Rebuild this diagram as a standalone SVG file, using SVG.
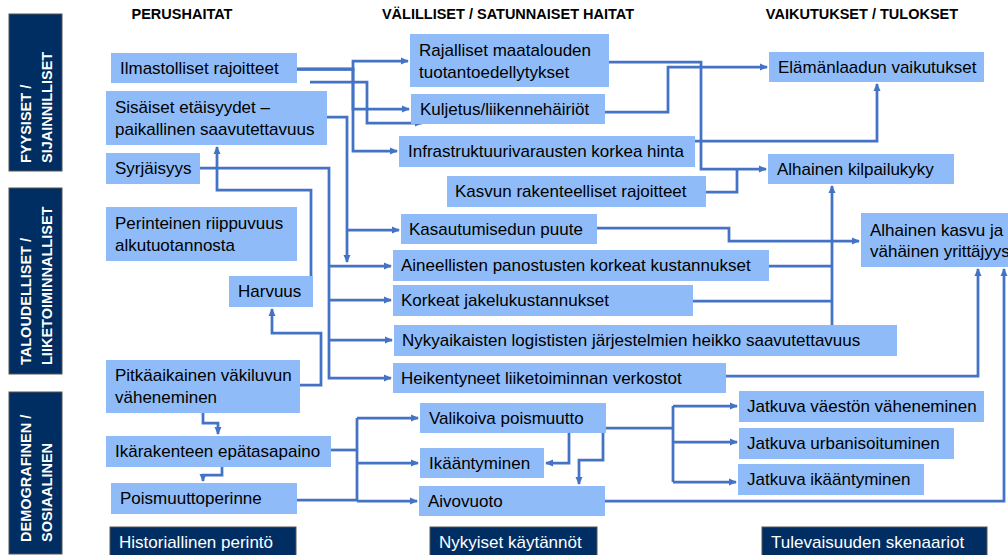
<svg xmlns="http://www.w3.org/2000/svg" width="1008" height="555" viewBox="0 0 1008 555">
<defs>
<marker id="arr" markerUnits="userSpaceOnUse" markerWidth="8" markerHeight="8" viewBox="0 0 8 8" refX="7" refY="4" orient="auto">
<path d="M0,0.5 L8,4 L0,7.5 z" fill="#4472c4"/>
</marker>
<style>
.n{fill:#8fbcf8}
.t{font-family:"Liberation Sans",Arial,sans-serif;font-size:17px;fill:#000}
.h{font-family:"Liberation Sans",Arial,sans-serif;font-size:14.5px;font-weight:bold;fill:#000;text-anchor:middle}
.s{fill:#002e62;stroke:#555;stroke-width:1}
.st{font-family:"Liberation Sans",Arial,sans-serif;font-size:14.5px;font-weight:bold;fill:#fff}
.bt{font-family:"Liberation Sans",Arial,sans-serif;font-size:17px;fill:#fff}
.c path{fill:none;stroke:#4472c4;stroke-width:2.75}
.a{marker-end:url(#arr)}
</style>
</defs>
<rect width="1008" height="555" fill="#fff"/>

<g id="headers">
<text class="h" x="182" y="19">PERUSHAITAT</text>
<text class="h" x="508" y="19">VÄLILLISET / SATUNNAISET HAITAT</text>
<text class="h" x="862" y="19">VAIKUTUKSET / TULOKSET</text>
</g>

<g id="side1">
<rect class="s" x="9" y="14" width="53" height="157"/>
<text class="st" transform="translate(31,163) rotate(-90)">FYYSISET /</text>
<text class="st" transform="translate(52,163) rotate(-90)">SIJAINNILLISET</text>
</g>
<g id="side2">
<rect class="s" x="9" y="188" width="53" height="186"/>
<text class="st" transform="translate(31,365) rotate(-90)">TALOUDELLISET /</text>
<text class="st" transform="translate(52,365) rotate(-90)">LIIKETOIMINNALLISET</text>
</g>
<g id="side3">
<rect class="s" x="9" y="392" width="53" height="162"/>
<text class="st" transform="translate(31,542) rotate(-90)">DEMOGRAFINEN /</text>
<text class="st" transform="translate(52,542) rotate(-90)">SOSIAALINEN</text>
</g>

<g id="bottom1"><rect class="s" x="110" y="527" width="186" height="30"/><text class="bt" x="119" y="548">Historiallinen perintö</text></g>
<g id="bottom2"><rect class="s" x="430" y="527" width="167" height="30"/><text class="bt" x="439" y="548">Nykyiset käytännöt</text></g>
<g id="bottom3"><rect class="s" x="762" y="527" width="225" height="30"/><text class="bt" x="771" y="548">Tulevaisuuden skenaariot</text></g>

<g class="c" id="connectors">
<path class="a" d="M297,69 H353 V61 H408"/>
<path class="a" d="M297,69 H353 V109 H409"/>
<path class="a" d="M297,69 H353 V151 H397"/>
<path class="a" d="M310,82 H367 V123 H422"/>
<path class="a" d="M327,117 H347 V262"/>
<path class="a" d="M347,230 H399"/>
<path class="a" d="M200,168 H329 V378 H391"/>
<path class="a" d="M329,266 H391"/>
<path class="a" d="M329,300 H391"/>
<path class="a" d="M329,340 H392"/>
<path class="a" d="M311,276 V190 H217 V147"/>
<path class="a" d="M300,385 H321 V333 H272 V309"/>
<path class="a" d="M203,413 V423 H218 V434"/>
<path class="a" d="M222,467 V475 H203 V481"/>
<path d="M331,450 H357"/>
<path d="M297,500 H357"/>
<path d="M357,418 V501"/>
<path class="a" d="M357,418 H418"/>
<path class="a" d="M357,463 H418"/>
<path class="a" d="M357,501 H417"/>
<path class="a" d="M569,433 V463 H546"/>
<path class="a" d="M603,433 V460 H579 V484"/>
<path d="M606,428 H673"/>
<path d="M673,406 V482"/>
<path class="a" d="M673,406 H737"/>
<path class="a" d="M673,442 H737"/>
<path class="a" d="M673,482 H736"/>
<path class="a" d="M605,501 H1004 V269"/>
<path class="a" d="M726,376 H978 V269"/>
<path class="a" d="M609,62 H701 V169 H766"/>
<path class="a" d="M605,112 H668 V67 H767"/>
<path class="a" d="M695,141 H877 V84"/>
<path d="M706,192 H737 V169"/>
<path class="a" d="M832,330 V186"/>
<path d="M769,266 H832"/>
<path d="M693,301 H832"/>
<path class="a" d="M597,228 H729 V241 H859"/>
</g>

<g id="n_ilmasto"><rect class="n" x="111" y="53" width="186" height="30"/><text class="t" x="120" y="74">Ilmastolliset rajoitteet</text></g>
<g id="n_sisaiset"><rect class="n" x="106" y="91" width="221" height="54"/><text class="t" x="115" y="113">Sisäiset etäisyydet –</text><text class="t" x="115" y="135">paikallinen saavutettavuus</text></g>
<g id="n_syrjaisyys"><rect class="n" x="106" y="153" width="94" height="31"/><text class="t" x="115" y="174">Syrjäisyys</text></g>
<g id="n_perinteinen"><rect class="n" x="106" y="207" width="191" height="54"/><text class="t" x="115" y="229">Perinteinen riippuvuus</text><text class="t" x="115" y="251">alkutuotannosta</text></g>
<g id="n_harvuus"><rect class="n" x="229" y="276" width="84" height="31"/><text class="t" x="238" y="297">Harvuus</text></g>
<g id="n_pitkaaikainen"><rect class="n" x="106" y="360" width="194" height="53"/><text class="t" x="115" y="381">Pitkäaikainen väkiluvun</text><text class="t" x="115" y="403">väheneminen</text></g>
<g id="n_ikarakenteen"><rect class="n" x="106" y="436" width="225" height="31"/><text class="t" x="115" y="457">Ikärakenteen epätasapaino</text></g>
<g id="n_poismuuttoperinne"><rect class="n" x="111" y="483" width="186" height="31"/><text class="t" x="120" y="504">Poismuuttoperinne</text></g>

<g id="n_rajalliset"><rect class="n" x="410" y="34" width="199" height="53"/><text class="t" x="419" y="56">Rajalliset maatalouden</text><text class="t" x="419" y="78">tuotantoedellytykset</text></g>
<g id="n_kuljetus"><rect class="n" x="411" y="94" width="194" height="30"/><text class="t" x="420" y="115">Kuljetus/liikennehäiriöt</text></g>
<g id="n_infra"><rect class="n" x="399" y="136" width="296" height="31"/><text class="t" x="408" y="157">Infrastruktuurivarausten korkea hinta</text></g>
<g id="n_kasvun"><rect class="n" x="447" y="176" width="259" height="31"/><text class="t" x="455" y="197">Kasvun rakenteelliset rajoitteet</text></g>
<g id="n_kasautumis"><rect class="n" x="401" y="214" width="196" height="30"/><text class="t" x="409" y="235">Kasautumisedun puute</text></g>
<g id="n_aineellisten"><rect class="n" x="393" y="250" width="376" height="31"/><text class="t" x="401" y="271">Aineellisten panostusten korkeat kustannukset</text></g>
<g id="n_korkeat"><rect class="n" x="393" y="285" width="300" height="31"/><text class="t" x="401" y="306">Korkeat jakelukustannukset</text></g>
<g id="n_nykyaikaisten"><rect class="n" x="394" y="325" width="503" height="31"/><text class="t" x="402" y="346">Nykyaikaisten logististen järjestelmien heikko saavutettavuus</text></g>
<g id="n_heikentyneet"><rect class="n" x="393" y="363" width="333" height="30"/><text class="t" x="401" y="384">Heikentyneet liiketoiminnan verkostot</text></g>
<g id="n_valikoiva"><rect class="n" x="420" y="403" width="186" height="30"/><text class="t" x="429" y="424">Valikoiva poismuutto</text></g>
<g id="n_ikaantyminen"><rect class="n" x="420" y="448" width="124" height="30"/><text class="t" x="429" y="469">Ikääntyminen</text></g>
<g id="n_aivovuoto"><rect class="n" x="419" y="486" width="186" height="30"/><text class="t" x="428" y="507">Aivovuoto</text></g>

<g id="n_elamanlaadun"><rect class="n" x="769" y="52" width="215" height="30"/><text class="t" x="778" y="73">Elämänlaadun vaikutukset</text></g>
<g id="n_kilpailukyky"><rect class="n" x="768" y="154" width="186" height="30"/><text class="t" x="777" y="175">Alhainen kilpailukyky</text></g>
<g id="n_alhainen_kasvu"><rect class="n" x="861" y="213" width="160" height="54"/><text class="t" x="870" y="236">Alhainen kasvu ja</text><text class="t" x="870" y="257">vähäinen yrittäjyys</text></g>
<g id="n_jatkuva_vaeston"><rect class="n" x="739" y="391" width="245" height="31"/><text class="t" x="747" y="412">Jatkuva väestön väheneminen</text></g>
<g id="n_jatkuva_urbanisoituminen"><rect class="n" x="739" y="428" width="215" height="31"/><text class="t" x="747" y="449">Jatkuva urbanisoituminen</text></g>
<g id="n_jatkuva_ikaantyminen"><rect class="n" x="738" y="464" width="186" height="31"/><text class="t" x="747" y="485">Jatkuva ikääntyminen</text></g>
</svg>
